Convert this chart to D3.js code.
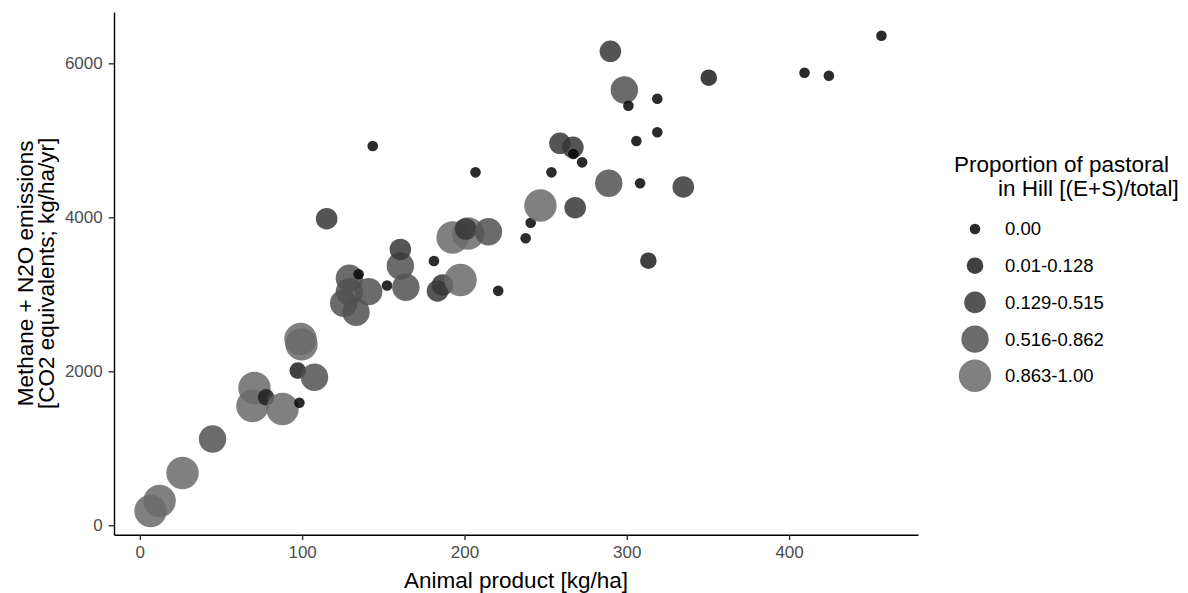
<!DOCTYPE html>
<html lang="en">
<head>
  <meta charset="UTF-8">
  <title>Animal product vs emissions</title>
  <style>
    body {
      margin: 0;
      background: #ffffff;
      font-family: "Liberation Sans", Arial, sans-serif;
    }
    .axis path.domain {
      stroke: #000;
      stroke-width: 1.4px;
    }
    .axis .tick line {
      stroke: #333;
      stroke-width: 1.4px;
    }
    .title {
      font-size: 22.5px;
      fill: #000;
    }
    .legend-label {
      font-size: 18.5px;
      fill: #000;
    }
  </style>
</head>
<body>
  <div id="chart"></div>

  <script src="https://d3js.org/d3.v7.min.js"></script>
  <script>
    // pastoral proportion classes (legend order)
    const classLabels = ["0.00", "0.01-0.128", "0.129-0.515", "0.516-0.862", "0.863-1.00"];

    // animal product [kg/ha]
    const animalProduct = [
      6.6, 12.2, 26.3, 44.8, 69.4, 70.6, 77.8, 87.9, 97.3, 98.3,
      107.6, 99.0, 99.6, 125.6, 129.1, 129.1, 133.2, 141.0, 134.8, 152.3,
      160.5, 160.5, 163.9, 115.1, 143.5, 181.2, 183.4, 186.5, 197.6, 220.8,
      192.7, 202.3, 200.8, 214.8, 206.8, 237.7, 240.8, 246.8, 253.6, 258.8,
      266.8, 267.1, 272.5, 268.2, 288.9, 308.2, 289.9, 298.5, 301.0, 318.8,
      318.8, 305.9, 334.8, 313.3, 350.5, 409.5, 424.5, 456.9
    ];

    // methane + N2O emissions [CO2 eq; kg/ha/yr]
    const emissions = [
      186, 316, 679, 1121, 1549, 1783, 1662, 1510, 2008, 1592,
      1922, 2420, 2350, 2883, 3208, 3034, 2766, 3034, 3260, 3114,
      3368, 3582, 3091, 3982, 4926, 3432, 3043, 3121, 3186, 3045,
      3738, 3790, 3848, 3813, 4584, 3727, 3930, 4153, 4584, 4961,
      4909, 4822, 4714, 4125, 4442, 4442, 6156, 5653, 5449, 5540,
      5104, 4991, 4394, 3436, 5813, 5878, 5839, 6358
    ];

    // class index of each point (into classLabels)
    const pastoralClass = [
      4, 4, 4, 3, 4, 4, 1, 4, 1, 0,
      3, 4, 4, 3, 3, 3, 3, 3, 0, 0,
      3, 2, 3, 2, 0, 0, 2, 2, 4, 0,
      4, 4, 2, 3, 0, 0, 0, 4, 0, 2,
      2, 0, 0, 2, 3, 0, 2, 3, 0, 0,
      0, 0, 2, 1, 1, 0, 0, 0
    ];

    const xTicks = [0, 100, 200, 300, 400];
    const yTicks = [0, 2000, 4000, 6000];

    const data = animalProduct.map((x, i) => ({
      x: x,
      y: emissions[i],
      cls: classLabels[pastoralClass[i]]
    }));

    const width = 1188, height = 593;
    const margin = { top: 12, right: 270, bottom: 58.3, left: 114 };
    const innerW = width - margin.left - margin.right;
    const innerH = height - margin.top - margin.bottom;

    // ggplot style 5% expansion
    function expand(ext) {
      const pad = (ext[1] - ext[0]) * 0.05;
      return [ext[0] - pad, ext[1] + pad];
    }

    const x = d3.scaleLinear()
      .domain(expand(d3.extent(animalProduct)))
      .range([0, innerW]);

    const y = d3.scaleLinear()
      .domain(expand(d3.extent(emissions)))
      .range([innerH, 0]);

    const radius = d3.scaleOrdinal()
      .domain(classLabels)
      .range([5.3, 8.3, 10.8, 13.7, 16.2]);

    const fill = d3.scaleOrdinal()
      .domain(classLabels)
      .range(["#060606", "#1e1e1e", "#373737", "#515151", "#6a6a6a"]);

    const svg = d3.select('#chart').append('svg')
      .attr('width', width)
      .attr('height', height);

    const g = svg.append('g')
      .attr('transform', `translate(${margin.left},${margin.top})`);

    // points
    g.selectAll('.pt')
      .data(data)
      .enter().append('circle')
      .attr('class', 'pt')
      .attr('cx', d => x(d.x))
      .attr('cy', d => y(d.y))
      .attr('r', d => radius(d.cls))
      .style('fill', d => fill(d.cls))
      .style('fill-opacity', 0.85);

    // axes
    const xAxis = g.append('g')
      .attr('class', 'axis')
      .attr('transform', `translate(0,${innerH})`)
      .call(d3.axisBottom(x).tickValues(xTicks).tickFormat(d3.format('d'))
        .tickSize(5.3).tickSizeOuter(0).tickPadding(4));
    xAxis.selectAll('text').attr('dy', '0.85em');

    const yAxis = g.append('g')
      .attr('class', 'axis')
      .call(d3.axisLeft(y).tickValues(yTicks).tickFormat(d3.format('d'))
        .tickSize(5.3).tickSizeOuter(0).tickPadding(6));

    svg.selectAll('.axis text')
      .style('font-size', '17px')
      .style('font-family', '"Liberation Sans", Arial, sans-serif')
      .style('fill', '#4d4d4d');

    // axis titles
    svg.append('text')
      .attr('class', 'title')
      .attr('x', margin.left + innerW / 2)
      .attr('y', 588)
      .attr('text-anchor', 'middle')
      .text('Animal product [kg/ha]');

    const yMid = margin.top + innerH / 2;
    const yTitle = ['Methane + N2O emissions', '[CO2 equivalents; kg/ha/yr]'];
    yTitle.forEach((line, i) => {
      svg.append('text')
        .attr('class', 'title')
        .attr('transform', `translate(${33 + i * 21},${yMid}) rotate(-90)`)
        .attr('text-anchor', 'middle')
        .text(line);
    });

    // legend
    const legend = svg.append('g');
    legend.append('text')
      .attr('class', 'title')
      .attr('x', 954)
      .attr('y', 172)
      .text('Proportion of pastoral');
    legend.append('text')
      .attr('class', 'title')
      .attr('x', 998)
      .attr('y', 196)
      .text('in Hill [(E+S)/total]');

    const item = legend.selectAll('.item')
      .data(classLabels)
      .enter().append('g')
      .attr('class', 'item')
      .attr('transform', (d, i) => `translate(975,${229 + i * 36.7})`);

    item.append('circle')
      .attr('r', d => radius(d))
      .style('fill', d => fill(d))
      .style('fill-opacity', 0.85);

    item.append('text')
      .attr('class', 'legend-label')
      .attr('x', 30)
      .attr('dy', '0.35em')
      .text(d => d);
  </script>
</body>
</html>
